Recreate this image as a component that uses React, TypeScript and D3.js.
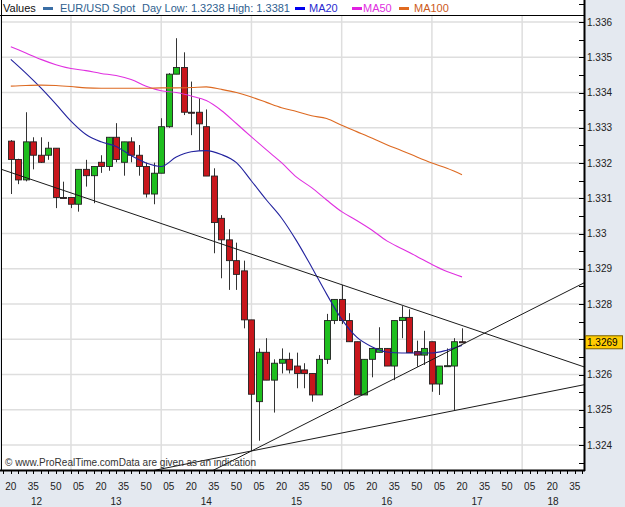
import React from "react";
import * as d3 from "d3";

// ---- data ----
const START = new Date(2013, 5, 17, 12, 20); // first candle time
const STEP_MIN = 5; // 5-minute candles

const opens = [
  1.33262, 1.3321, 1.33152, 1.3326, 1.33222, 1.33222, 1.33242, 1.33102, 1.33102, 1.33083,
  1.33182, 1.33164, 1.33202, 1.3319, 1.33273, 1.33202, 1.3326, 1.33222, 1.3319, 1.33112,
  1.33171, 1.33303, 1.33452, 1.33471, 1.33344, 1.33344, 1.33303, 1.33163, 1.33043, 1.32982,
  1.32923, 1.32894, 1.32755, 1.32523, 1.32663, 1.32584, 1.32632, 1.32643, 1.32624, 1.32613,
  1.32603, 1.32542, 1.32643, 1.32753, 1.32813, 1.32753, 1.32693, 1.32542, 1.32643, 1.32663,
  1.32674, 1.32624, 1.32753, 1.32762, 1.32665, 1.32655, 1.32693, 1.32573, 1.32624, 1.32624,
  1.32693,
];
const highs = [
  1.33265, 1.33212, 1.33344, 1.33273, 1.33273, 1.3326, 1.33242, 1.33147, 1.33102, 1.33182,
  1.33209, 1.3319, 1.33222, 1.33273, 1.33313, 1.3326, 1.33273, 1.33251, 1.33201, 1.33201,
  1.33327, 1.33455, 1.33554, 1.33514, 1.33431, 1.33384, 1.33352, 1.33185, 1.33052, 1.33012,
  1.32974, 1.32923, 1.32755, 1.32674, 1.32703, 1.32643, 1.32674, 1.32662, 1.32662, 1.32632,
  1.32603, 1.32655, 1.32772, 1.32813, 1.32854, 1.32774, 1.32693, 1.32643, 1.32674, 1.32734,
  1.32674, 1.32753, 1.32794, 1.32785, 1.32696, 1.32724, 1.32693, 1.32624, 1.32674, 1.32703,
  1.32731,
];
const lows = [
  1.33112, 1.3314, 1.33148, 1.33182, 1.332, 1.33209, 1.33072, 1.331, 1.33072, 1.33062,
  1.33133, 1.33086, 1.33172, 1.33178, 1.33202, 1.33164, 1.33202, 1.33164, 1.33102, 1.33083,
  1.33171, 1.333, 1.33452, 1.33336, 1.33279, 1.33235, 1.33163, 1.32944, 1.32873, 1.3284,
  1.3284, 1.32731, 1.32383, 1.32412, 1.32584, 1.32492, 1.32603, 1.32603, 1.32561, 1.32561,
  1.32523, 1.32542, 1.3263, 1.32743, 1.32743, 1.32693, 1.32542, 1.32542, 1.32592, 1.32663,
  1.32624, 1.32584, 1.32703, 1.32662, 1.32622, 1.32627, 1.32551, 1.32542, 1.32622, 1.32499,
  1.3269,
];
const closes = [
  1.3321, 1.33152, 1.3326, 1.33222, 1.33202, 1.33242, 1.33102, 1.331, 1.33083, 1.33182,
  1.33164, 1.3319, 1.3319, 1.33273, 1.3321, 1.3326, 1.33222, 1.3319, 1.33112, 1.33171,
  1.33303, 1.33452, 1.33471, 1.33344, 1.33342, 1.33311, 1.33163, 1.33031, 1.32982, 1.32923,
  1.32884, 1.32755, 1.32544, 1.32663, 1.32584, 1.32632, 1.32643, 1.32613, 1.32603, 1.32603,
  1.32542, 1.32643, 1.32753, 1.32813, 1.32753, 1.32693, 1.32542, 1.32643, 1.32674, 1.32674,
  1.32624, 1.32753, 1.32762, 1.32662, 1.32655, 1.32674, 1.32573, 1.32624, 1.32625, 1.32693,
  1.3269,
];

// moving averages, sampled every 2 candles (candle index)
const maIndex = [0, 2, 4, 6, 8, 10, 12, 14, 16, 18, 20, 22, 24, 26, 28, 30, 32, 34, 36, 38, 40, 42, 44, 46, 48, 50, 52, 54, 56, 58, 60];
const ma20 = [
  1.33494, 1.33455, 1.33413, 1.33367, 1.33319, 1.33281, 1.3326, 1.33247, 1.33221, 1.332, 1.3319,
  1.33217, 1.33232, 1.33235, 1.33224, 1.33201, 1.33149, 1.33095, 1.33044, 1.32979, 1.32905,
  1.32828, 1.32757, 1.32706, 1.32679, 1.32664, 1.32661, 1.32661, 1.32661, 1.32669, 1.32682,
];
const ma50 = [
  1.3353, 1.33512, 1.33494, 1.33479, 1.33468, 1.33462, 1.33454, 1.33448, 1.33437, 1.33418, 1.33405,
  1.334, 1.3339, 1.33377, 1.33349, 1.33312, 1.33274, 1.33237, 1.33201, 1.3316, 1.3313,
  1.33095, 1.33062, 1.33037, 1.3301, 1.32979, 1.32957, 1.32935, 1.32912, 1.32892, 1.32877,
];
const ma100 = [
  1.33418, 1.3342, 1.33421, 1.3342, 1.33417, 1.33413, 1.33412, 1.33412, 1.33412, 1.33412, 1.33413,
  1.33413, 1.33414, 1.33416, 1.33409, 1.334, 1.33387, 1.33372, 1.33357, 1.33346, 1.33334,
  1.33326, 1.33307, 1.33289, 1.33271, 1.33252, 1.33235, 1.33217, 1.332, 1.33185, 1.33167,
];

// trend lines: two anchor points each [candleIndex, price], extended across the chart
const trendA = [[0, 1.33173], [60, 1.32739]];
const trendB = [[32, 1.32383], [60, 1.32685]];
const trendC = [[32, 1.32383], [60, 1.32502]];

const priceTicks = [1.324, 1.325, 1.326, 1.327, 1.328, 1.329, 1.33, 1.331, 1.332, 1.333, 1.334, 1.335, 1.336];
const lastPrice = 1.3269;
const legendTitle = "Values";
const seriesName = "EUR/USD Spot";
const dayInfo = "Day Low: 1.3238 High: 1.3381";
const maNames = ["MA20", "MA50", "MA100"];
const watermark = "\u00A9 www.ProRealTime.comData are given as an indication";

export default function App() {
  const W = 625, H = 507;
  const L = 2, T = 16, R = 584, B = 470;
  const FONT = "'Liberation Sans', Arial, sans-serif";
  const panel = "#e4e9f0";
  const grid = "#dedede";
  const red = "#c8161c";
  const green = "#1ebe1e";
  const maColors = ["#22229e", "#e030e0", "#dd6a22"];

  const tAt = (i: number) => new Date(START.getTime() + i * STEP_MIN * 60000);
  const x = d3.scaleTime().domain([tAt(0), tAt(60)]).range([10.8, 462]);
  const y = d3.scaleLinear().domain([1.324, 1.336]).range([445, 22]);

  const tLeft = x.invert(L);
  const tRight = x.invert(R);
  const fiveMin = d3.timeMinute.every(5)!.range(tLeft, tRight);
  const labelTimes = fiveMin.filter((d) => d.getMinutes() % 15 === 5);
  const hourBounds = d3.timeHour.range(tLeft, tRight);
  const fmtMin = d3.timeFormat("%M");
  const fmtHour = d3.timeFormat("%H");

  // hour labels centred on visible part of each hour
  const hourStarts = [d3.timeHour.floor(tLeft), ...hourBounds];
  const hourLabels = hourStarts.map((h) => {
    const a = Math.max(L, x(h));
    const b = Math.min(R, x(d3.timeHour.offset(h, 1)));
    return { label: fmtHour(h), cx: (a + b) / 2 };
  });

  const minorPrices = d3.range(1.3235, 1.3366, 0.0005);
  const fmtPrice = d3.format(".3~f");
  // labels hidden behind the last-price box are not drawn
  const shownPriceLabels = priceTicks.filter((p) => Math.abs(y(p) - y(lastPrice)) > 9);

  const mas = [ma20, ma50, ma100];
  const maLine = d3
    .line<number>()
    .x((_, k) => x(tAt(maIndex[k])))
    .y((v) => y(v))
    .curve(d3.curveMonotoneX);

  const trendPath = (tl: number[][]) => {
    const [[i0, p0], [i1, p1]] = tl;
    const slope = (p1 - p0) / (i1 - i0);
    const ia = -5, ib = 85;
    return `M${x(tAt(ia))},${y(p0 + slope * (ia - i0))}L${x(tAt(ib))},${y(p0 + slope * (ib - i0))}`;
  };

  const candles = opens.map((o, i) => ({ o, h: highs[i], l: lows[i], c: closes[i], t: tAt(i) }));

  return (
    <svg
      width={W}
      height={H}
      style={{ position: "absolute", left: 0, top: 0, display: "block" }}
      fontFamily={FONT}
    >
      <defs>
        <clipPath id="plotClip">
          <rect x={L} y={T} width={R - L} height={B - T} />
        </clipPath>
      </defs>
      <rect x={0} y={0} width={W} height={H} fill={panel} />
      <rect x={0} y={0} width={R} height={T} fill="#ffffff" />
      <rect x={L} y={T} width={R - L} height={B - T} fill="#ffffff" />

      {/* grid */}
      <g clipPath="url(#plotClip)">
        {priceTicks.map((p) => (
          <line key={"hg" + p} x1={L} x2={R} y1={y(p)} y2={y(p)} stroke={grid} strokeWidth={1.5} />
        ))}
        {hourBounds.map((h) => (
          <line key={"vg" + h.getTime()} x1={x(h)} x2={x(h)} y1={T} y2={B} stroke={grid} strokeWidth={1.5} />
        ))}
      </g>

      {/* candles */}
      <g clipPath="url(#plotClip)">
        {candles.map((d, i) => {
          const cx = Math.round(x(d.t)) + 0.5;
          const top = y(Math.max(d.o, d.c));
          const bot = y(Math.min(d.o, d.c));
          const up = d.c >= d.o;
          return (
            <g key={"c" + i}>
              <line x1={cx} x2={cx} y1={y(d.h)} y2={y(d.l)} stroke="#333" strokeWidth={1} />
              <rect
                x={cx - 3}
                y={top}
                width={6}
                height={Math.max(1, bot - top)}
                fill={up ? green : red}
                stroke="#222"
                strokeWidth={0.9}
              />
            </g>
          );
        })}
      </g>

      {/* moving averages */}
      <g clipPath="url(#plotClip)" fill="none">
        {mas.map((m, k) => (
          <path key={"ma" + k} d={maLine(m) || ""} stroke={maColors[k]} strokeWidth={1.1} />
        ))}
      </g>

      {/* trend lines */}
      <g clipPath="url(#plotClip)" fill="none" stroke="#1a1a1a" strokeWidth={1}>
        {[trendA, trendB, trendC].map((tl, k) => (
          <path key={"tl" + k} d={trendPath(tl)} />
        ))}
      </g>

      {/* watermark */}
      <text x={5} y={466} fontSize={10} fill="#333">
        {watermark}
      </text>

      {/* borders */}
      <line x1={1.5} x2={1.5} y1={0} y2={B} stroke="#000" strokeWidth={1} />
      <line x1={0} x2={R} y1={T - 0.5} y2={T - 0.5} stroke="#000" strokeWidth={1} />
      <line x1={R + 0.5} x2={R + 0.5} y1={0} y2={B + 1} stroke="#000" strokeWidth={2} />
      <line x1={0} x2={R + 1} y1={B + 0.5} y2={B + 0.5} stroke="#000" strokeWidth={2} />

      {/* right axis */}
      <g>
        {minorPrices.map((p, k) => (
          <line key={"yt" + k} x1={R - 5} x2={R} y1={Math.round(y(p)) + 0.5} y2={Math.round(y(p)) + 0.5} stroke="#000" strokeWidth={1} />
        ))}
        {shownPriceLabels.map((p) => (
          <text key={"yl" + p} x={R + 3} y={y(p)} dy="0.35em" fontSize={10} fill="#222">
            {fmtPrice(p)}
          </text>
        ))}
        <rect x={R + 1.5} y={y(lastPrice) - 7} width={37} height={13} fill="#ffcc00" stroke="#7a6000" strokeWidth={1} />
        <text x={R + 3} y={y(lastPrice) - 0.5} dy="0.35em" fontSize={10} fill="#000">
          {lastPrice.toFixed(4)}
        </text>
      </g>

      {/* bottom axis */}
      <g>
        {fiveMin.map((d, k) => (
          <line key={"xt" + k} x1={Math.round(x(d)) + 0.5} x2={Math.round(x(d)) + 0.5} y1={B + 1} y2={B + 4} stroke="#000" strokeWidth={1} />
        ))}
        {labelTimes.map((d, k) => (
          <text key={"xl" + k} x={x(d)} y={490} textAnchor="middle" fontSize={10} fill="#222">
            {fmtMin(d)}
          </text>
        ))}
        {hourLabels.map((h, k) => (
          <text key={"hl" + k} x={h.cx} y={505} textAnchor="middle" fontSize={10} fill="#222">
            {h.label}
          </text>
        ))}
      </g>

      {/* legend */}
      <g fontSize={11}>
        <text x={3} y={12} fill="#111">{legendTitle}</text>
        <rect x={43} y={7} width={10} height={3} fill="#3a6ea5" />
        <text x={60} y={12} fill="#2f5f8f">{seriesName}</text>
        <text x={142} y={12} fill="#2f5f8f">{dayInfo}</text>
        <rect x={295} y={7} width={10} height={3} fill="#0000ee" />
        <text x={309} y={12} fill="#2a2ad0">{maNames[0]}</text>
        <rect x={352} y={7} width={10} height={3} fill="#e020e0" />
        <text x={363} y={12} fill={maColors[1]}>{maNames[1]}</text>
        <rect x={399} y={7} width={10} height={3} fill="#e06a20" />
        <text x={414} y={12} fill="#cc5a20">{maNames[2]}</text>
      </g>
    </svg>
  );
}
